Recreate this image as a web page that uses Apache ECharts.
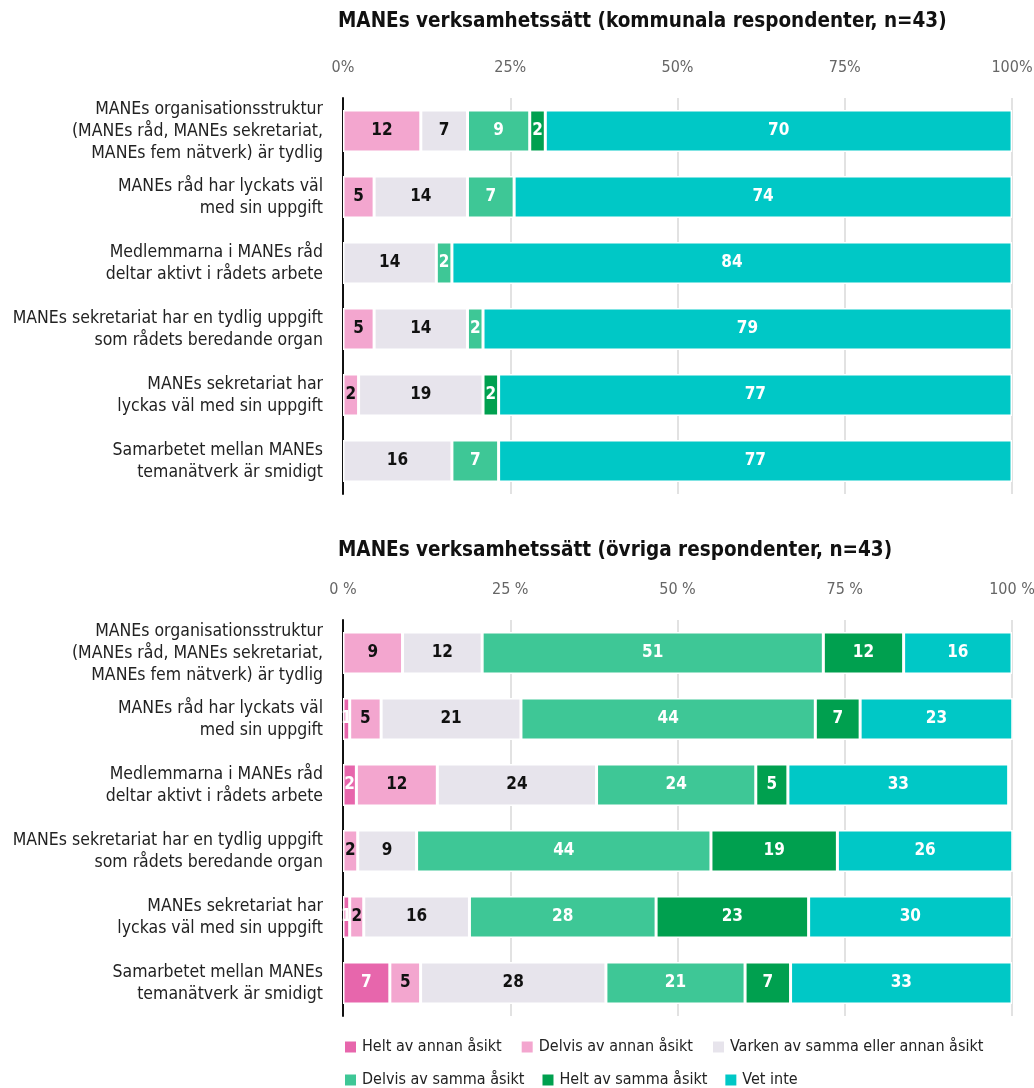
<!DOCTYPE html>
<html><head><meta charset="utf-8">
<script src="https://cdn.jsdelivr.net/npm/echarts@6/dist/echarts.min.js"></script>
<style>html,body{margin:0;padding:0;background:#fff}#c{width:1034px;height:1088px}</style>
</head><body><div id="c"></div>
<script>
const categories = [
  "MANEs organisationsstruktur\n(MANEs råd, MANEs sekretariat,\nMANEs fem nätverk) är tydlig",
  "MANEs råd har lyckats väl\nmed sin uppgift",
  "Medlemmarna i MANEs råd\ndeltar aktivt i rådets arbete",
  "MANEs sekretariat har en tydlig uppgift\nsom rådets beredande organ",
  "MANEs sekretariat har\nlyckas väl med sin uppgift",
  "Samarbetet mellan MANEs\ntemanätverk är smidigt"
];
const seriesNames = ["Helt av annan åsikt","Delvis av annan åsikt","Varken av samma eller annan åsikt","Delvis av samma åsikt","Helt av samma åsikt","Vet inte"];
const colors = ["#e766ac","#f3a6cf","#e7e4ec","#3ec796","#00a04f","#00c8c6"];
const labelColors = ["#fff","#111","#111","#fff","#fff","#fff"];
const title1 = "MANEs verksamhetssätt (kommunala respondenter, n=43)";
const title2 = "MANEs verksamhetssätt (övriga respondenter, n=43)";
const ticks1 = ["0%","25%","50%","75%","100%"];
const ticks2 = ["0 %","25 %","50 %","75 %","100 %"];

// Top panel (kommunala)
const k_heltAnnan   = [0, 0, 0, 0, 0, 0];
const k_delvisAnnan = [11.63, 4.65, 0, 4.65, 2.33, 0];
const k_varken      = [6.98, 13.95, 13.95, 13.95, 18.60, 16.28];
const k_delvisSamma = [9.30, 6.98, 2.33, 2.33, 0, 6.98];
const k_heltSamma   = [2.33, 0, 0, 0, 2.33, 0];
const k_vetInte     = [69.77, 74.42, 83.72, 79.07, 76.74, 76.74];

// Bottom panel (övriga)
const o_heltAnnan   = [0, 1.0, 2.0, 0, 1.0, 7.0];
const o_delvisAnnan = [8.9, 4.7, 12.1, 2.2, 2.1, 4.6];
const o_varken      = [11.9, 20.9, 23.8, 8.8, 15.8, 27.7];
const o_delvisSamma = [51.0, 44.0, 23.8, 44.0, 27.9, 20.8];
const o_heltSamma   = [12.0, 6.7, 4.8, 18.9, 22.8, 6.8];
const o_vetInte     = [16.2, 23.1, 33.0, 26.3, 30.4, 33.1];

const kData = [k_heltAnnan,k_delvisAnnan,k_varken,k_delvisSamma,k_heltSamma,k_vetInte];
const oData = [o_heltAnnan,o_delvisAnnan,o_varken,o_delvisSamma,o_heltSamma,o_vetInte];

const FONT = "'Liberation Sans Narrow','DejaVu Sans Condensed','Liberation Sans',sans-serif";

function xAxis(gi, ticks){
  return {
    type:'value', gridIndex:gi, min:0, max:100, interval:25, position:'top',
    axisLine:{show:false}, axisTick:{show:false},
    axisLabel:{color:'#666', fontSize:16, fontFamily:FONT, margin:22,
      formatter:(v)=>ticks[Math.round(v/25)]},
    splitLine:{show:true, lineStyle:{color:'#d9d9d9', width:1.5}}
  };
}
function yAxis(gi){
  return {
    type:'category', gridIndex:gi, data:categories, inverse:true,
    axisLine:{show:true, lineStyle:{color:'#111', width:2}}, axisTick:{show:false},
    axisLabel:{color:'#222', fontSize:17.5, fontFamily:FONT, margin:20, align:'right', lineHeight:22}
  };
}
function buildSeries(data, gi, stack){
  return data.map((arr,i)=>({
    name:seriesNames[i], type:'bar', stack:stack, xAxisIndex:gi, yAxisIndex:gi,
    barWidth:'64%',
    data:arr.map(v=> v>0 ? v : '-'),
    itemStyle:{color:colors[i], borderColor:'#fff', borderWidth:1.5},
    label:{show:true, position:'inside', color:labelColors[i], fontSize:17, fontWeight:'bold', fontFamily:FONT,
      formatter:(p)=> (typeof p.value==='number' && p.value>0) ? String(Math.round(p.value)) : ''},
    emphasis:{disabled:true}, animation:false
  }));
}

const chart = echarts.init(document.getElementById('c'));
chart.setOption({
  backgroundColor:'#fff',
  animation:false,
  title:[
    {text:title1, left:338, top:11, padding:0, textStyle:{fontSize:20.5, fontWeight:'bold', color:'#111', fontFamily:FONT}},
    {text:title2, left:338, top:540, padding:0, textStyle:{fontSize:20.5, fontWeight:'bold', color:'#111', fontFamily:FONT}}
  ],
  legend:[
    {data:seriesNames.slice(0,3), left:343, top:1039, width:690, padding:0, itemWidth:13, itemHeight:13, itemGap:18, icon:'rect',
      textStyle:{fontSize:16, color:'#222', fontFamily:FONT}},
    {data:seriesNames.slice(3), left:343, top:1072, width:690, padding:0, itemWidth:13, itemHeight:13, itemGap:16, icon:'rect',
      textStyle:{fontSize:16, color:'#222', fontFamily:FONT}}
  ],
  grid:[
    {left:343, top:98, width:669, height:396, outerBoundsMode:'none', containLabel:false},
    {left:343, top:620, width:669, height:396, outerBoundsMode:'none', containLabel:false}
  ],
  xAxis:[xAxis(0,ticks1), xAxis(1,ticks2)],
  yAxis:[yAxis(0), yAxis(1)],
  series:[].concat(buildSeries(kData,0,'k'), buildSeries(oData,1,'o'))
});
</script></body></html>
